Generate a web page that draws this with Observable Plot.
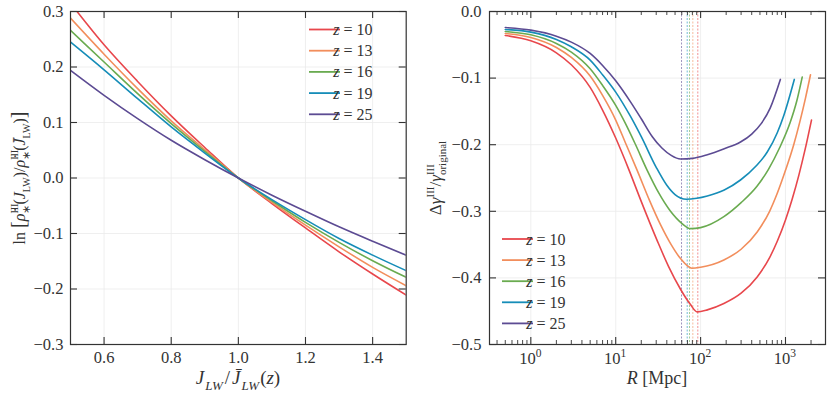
<!DOCTYPE html>
<html>
<head>
<meta charset="utf-8">
<script src="https://cdn.jsdelivr.net/npm/d3@7"></script>
<script src="https://cdn.jsdelivr.net/npm/@observablehq/plot@0.6"></script>
<style>
html,body{margin:0;padding:0;background:#fff;}
#wrap{position:relative;width:830px;height:393px;overflow:hidden;}
#wrap svg{position:absolute;top:0;}
#wrap svg text{font-family:'Liberation Serif', serif;}
</style>
</head>
<body>
<div id="wrap"></div>
<script>
// ---------- shared ----------
const redshifts = [10, 13, 16, 19, 25];
const seriesColors = ["#e8474c", "#f28e5c", "#6aab50", "#168db8", "#5c4b93"];
const FONT = "'Liberation Serif', serif";

// ---------- left panel data ----------
const jRatio = [0.5, 0.6, 0.7, 0.8, 0.9, 1.0, 1.1, 1.2, 1.3, 1.4, 1.5];
const lnRate_z10 = [0.315, 0.240, 0.174, 0.112, 0.055, 0, -0.046, -0.090, -0.133, -0.173, -0.211];
const lnRate_z13 = [0.288, 0.223, 0.161, 0.103, 0.051, 0, -0.044, -0.085, -0.124, -0.161, -0.194];
const lnRate_z16 = [0.266, 0.209, 0.152, 0.098, 0.048, 0, -0.041, -0.080, -0.116, -0.149, -0.179];
const lnRate_z19 = [0.245, 0.195, 0.143, 0.092, 0.045, 0, -0.039, -0.075, -0.109, -0.139, -0.167];
const lnRate_z25 = [0.194, 0.149, 0.107, 0.068, 0.033, 0, -0.031, -0.060, -0.088, -0.114, -0.139];
const leftXTicks = [0.6, 0.8, 1.0, 1.2, 1.4];
const leftYTicks = [-0.3, -0.2, -0.1, 0.0, 0.1, 0.2, 0.3];

// ---------- right panel data ----------
const R_z10 = [0.5, 1, 2, 3, 5, 7, 10, 14.4, 19.6, 30.8, 42, 58, 76, 91, 120, 188, 300, 464, 650, 800, 1000, 1200, 1435, 1700, 2024];
const dGamma_z10 = [-0.036, -0.044, -0.062, -0.080, -0.114, -0.148, -0.190, -0.2385, -0.2825, -0.344, -0.383, -0.417, -0.440, -0.451, -0.448, -0.4385, -0.423, -0.3985, -0.3695, -0.345, -0.313, -0.2815, -0.246, -0.2075, -0.163];
const R_z13 = [0.5, 1, 2, 3, 5, 7, 10, 13, 17.9, 25, 33.7, 45, 58, 79, 100, 188, 300, 464, 650, 800, 1000, 1250, 1480, 1720, 1970];
const dGamma_z13 = [-0.033, -0.039, -0.054, -0.069, -0.097, -0.126, -0.163, -0.197, -0.2385, -0.2835, -0.320, -0.350, -0.371, -0.3855, -0.384, -0.373, -0.357, -0.331, -0.300, -0.273, -0.2385, -0.200, -0.165, -0.130, -0.095];
const R_z16 = [0.5, 1, 2, 3, 5, 7, 10, 13, 17, 23.5, 32, 44, 60, 76, 100, 188, 300, 464, 630, 850, 1140, 1360, 1574];
const dGamma_z16 = [-0.030, -0.035, -0.048, -0.061, -0.086, -0.111, -0.141, -0.168, -0.199, -0.2385, -0.272, -0.2995, -0.318, -0.326, -0.3245, -0.308, -0.287, -0.262, -0.237, -0.205, -0.166, -0.134, -0.0985];
const R_z19 = [0.5, 1, 2, 3, 5, 7, 10, 15, 20, 30, 40, 50, 68, 90, 120, 190, 295, 450, 610, 800, 955, 1270];
const dGamma_z19 = [-0.027, -0.031, -0.042, -0.053, -0.073, -0.095, -0.121, -0.158, -0.188, -0.234, -0.261, -0.275, -0.282, -0.2805, -0.277, -0.268, -0.253, -0.232, -0.211, -0.182, -0.156, -0.102];
const R_z25 = [0.5, 1, 2, 3, 5, 7, 10, 15, 20, 27, 35, 45, 58, 80, 120, 190, 295, 400, 520, 660, 870];
const dGamma_z25 = [-0.024, -0.028, -0.037, -0.046, -0.063, -0.081, -0.104, -0.136, -0.161, -0.188, -0.205, -0.216, -0.2215, -0.2205, -0.215, -0.206, -0.196, -0.184, -0.168, -0.145, -0.102];
const minimumR = [92.7, 81, 74, 69.5, 59.6];
const rightXTicks = [1, 10, 100, 1000];
const rightXTickExponents = ["0", "1", "2", "3"];
const rightMinorTicks = [0.4, 0.5, 0.6, 0.7, 0.8, 0.9, 2, 3, 4, 5, 6, 7, 8, 9, 20, 30, 40, 50, 60, 70, 80, 90, 200, 300, 400, 500, 600, 700, 800, 900, 2000];
const rightYTicks = [-0.5, -0.4, -0.3, -0.2, -0.1, 0.0];

// ---------- build tables ----------
const leftSeries = [lnRate_z10, lnRate_z13, lnRate_z16, lnRate_z19, lnRate_z25];
const leftData = leftSeries.flatMap((vals, i) => vals.map((v, k) => ({j: jRatio[k], v, z: redshifts[i]})));
const rightR = [R_z10, R_z13, R_z16, R_z19, R_z25];
const rightV = [dGamma_z10, dGamma_z13, dGamma_z16, dGamma_z19, dGamma_z25];
const rightData = rightR.flatMap((rs, i) => rs.map((r, k) => ({r, v: rightV[i][k], z: redshifts[i]})));
const minData = minimumR.map((r, i) => ({r, z: redshifts[i]}));

const W = 415, H = 393, MT = 11, MB = 49;
const innerH = H - MT - MB;
const fmt1 = d3.format(".1f");
const AX = "#333";
const TICKFS = "16.5px";

function mathLabel(svg, parts, {x, y, rotate = 0, size = 16}) {
  const t = d3.select(svg).append("text")
    .attr("transform", `translate(${x},${y}) rotate(${rotate})`)
    .attr("text-anchor", "middle")
    .attr("font-family", FONT).attr("font-size", size).attr("fill", AX);
  let shift = 0;
  for (const p of parts) {
    const target = p.sup ? -size * 0.42 : p.sub ? size * 0.3 : 0;
    const ts = t.append("tspan").text(p.t).attr("dy", target - shift);
    if (p.dx) ts.attr("dx", p.dx);
    if (p.it) ts.attr("font-style", "italic");
    if (p.size) ts.attr("font-size", p.size);
    shift = target;
  }
}

function legend(svg, x0, y0, step) {
  const g = d3.select(svg).append("g");
  redshifts.forEach((z, i) => {
    const y = y0 + i * step;
    g.append("line").attr("x1", x0).attr("x2", x0 + 31).attr("y1", y).attr("y2", y)
      .attr("stroke", seriesColors[i]).attr("stroke-width", 1.8);
    const t = g.append("text").attr("x", x0 + 44).attr("y", y + 5.5)
      .attr("font-family", FONT).attr("font-size", 16).attr("fill", AX);
    t.append("tspan").attr("font-style", "italic").text("z");
    t.append("tspan").text(" = " + z);
  });
}

// ---------- left plot ----------
const mlL = 70, mrL = 9.3;
const innerWL = W - mlL - mrL;
const left = Plot.plot({
  width: W, height: H,
  marginLeft: mlL, marginRight: mrL, marginTop: MT, marginBottom: MB,
  style: {fontFamily: FONT, fontSize: TICKFS, color: AX, background: "transparent"},
  x: {domain: [0.5, 1.5]},
  y: {domain: [-0.3, 0.3]},
  color: {domain: redshifts, range: seriesColors},
  marks: [
    Plot.gridX(leftXTicks, {stroke: "#ebebeb", strokeOpacity: 1, strokeWidth: 0.8}),
    Plot.gridY(leftYTicks, {stroke: "#ebebeb", strokeOpacity: 1, strokeWidth: 0.8}),
    Plot.line(leftData, {x: "j", y: "v", stroke: "z", z: "z", curve: "monotone-x", strokeWidth: 1.6, clip: true}),
    Plot.frame({stroke: AX, strokeWidth: 1.2}),
    Plot.tickX(leftXTicks, {x: d => d, insetTop: innerH - 7, stroke: AX, strokeWidth: 1.1}),
    Plot.tickX(leftXTicks, {x: d => d, insetBottom: innerH - 7, stroke: AX, strokeWidth: 1.1}),
    Plot.tickY(leftYTicks, {y: d => d, insetRight: innerWL - 7, stroke: AX, strokeWidth: 1.1}),
    Plot.tickY(leftYTicks, {y: d => d, insetLeft: innerWL - 7, stroke: AX, strokeWidth: 1.1}),
    Plot.axisX(leftXTicks, {tickSize: 0, tickPadding: 7, tickFormat: fmt1, label: null}),
    Plot.axisY(leftYTicks, {tickSize: 0, tickPadding: 7, tickFormat: fmt1, label: null})
  ]
});
left.style.left = "0px";
document.getElementById("wrap").appendChild(left);
legend(left, 309, 29.5, 21.2);
mathLabel(left, [
  {t: "ln "}, {t: "[", size: 20},
  {t: "\u03c1\u0307", it: true}, {t: "III", sup: true, size: 10}, {t: "\u2217", sub: true, size: 11, dx: -10},
  {t: "(", }, {t: "J", it: true}, {t: "LW", sub: true, size: 10}, {t: ")/"},
  {t: "\u03c1\u0307", it: true}, {t: "III", sup: true, size: 10}, {t: "\u2217", sub: true, size: 11, dx: -10},
  {t: "(", }, {t: "J\u0304", it: true}, {t: "LW", sub: true, size: 10}, {t: ")"}, {t: "]", size: 20}
], {x: 25, y: 178, rotate: -90, size: 16});
mathLabel(left, [
  {t: "J", it: true}, {t: "LW", it: true, sub: true, size: 13, dx: 1}, {t: "/", dx: 2},
  {t: "J\u0304", it: true, dx: 2}, {t: "LW", it: true, sub: true, size: 13, dx: 1}, {t: "(", dx: 1}, {t: "z", it: true}, {t: ")"}
], {x: 238, y: 384, size: 19});

// ---------- right plot ----------
const mlR = 74, mrR = 5;
const innerWR = W - mlR - mrR;
const right = Plot.plot({
  width: W, height: H,
  marginLeft: mlR, marginRight: mrR, marginTop: MT, marginBottom: MB,
  style: {fontFamily: FONT, fontSize: TICKFS, color: AX, background: "transparent"},
  x: {type: "log", domain: [0.326, 2960], axis: null},
  y: {domain: [-0.5, 0]},
  color: {domain: redshifts, range: seriesColors},
  marks: [
    Plot.gridX(rightXTicks, {stroke: "#ebebeb", strokeOpacity: 1, strokeWidth: 0.8}),
    Plot.gridY(rightYTicks, {stroke: "#ebebeb", strokeOpacity: 1, strokeWidth: 0.8}),
    Plot.ruleX(minData, {x: "r", stroke: "z", strokeWidth: 0.8, strokeOpacity: 0.75, strokeDasharray: "2,1.5"}),
    Plot.line(rightData, {x: "r", y: "v", stroke: "z", z: "z", curve: "monotone-x", strokeWidth: 1.6}),
    Plot.frame({stroke: AX, strokeWidth: 1.2}),
    Plot.tickX(rightXTicks, {x: d => d, insetTop: innerH - 7, stroke: AX, strokeWidth: 1.1}),
    Plot.tickX(rightXTicks, {x: d => d, insetBottom: innerH - 7, stroke: AX, strokeWidth: 1.1}),
    Plot.tickX(rightMinorTicks, {x: d => d, insetTop: innerH - 4, stroke: AX, strokeWidth: 0.9}),
    Plot.tickX(rightMinorTicks, {x: d => d, insetBottom: innerH - 4, stroke: AX, strokeWidth: 0.9}),
    Plot.tickY(rightYTicks, {y: d => d, insetRight: innerWR - 7, stroke: AX, strokeWidth: 1.1}),
    Plot.tickY(rightYTicks, {y: d => d, insetLeft: innerWR - 7, stroke: AX, strokeWidth: 1.1}),
    Plot.axisY(rightYTicks, {tickSize: 0, tickPadding: 8, tickFormat: fmt1, label: null})
  ]
});
right.style.left = "415px";
document.getElementById("wrap").appendChild(right);
// decade tick labels 10^n placed with the plot's own x scale
const xs = right.scale("x");
const gT = d3.select(right).append("g");
rightXTicks.forEach((v, i) => {
  const t = gT.append("text")
    .attr("x", xs.apply(v)).attr("y", H - MB + 20)
    .attr("text-anchor", "middle").attr("font-family", FONT)
    .attr("font-size", 16.5).attr("fill", AX);
  t.append("tspan").text("10");
  t.append("tspan").attr("font-size", 11.5).attr("dy", -7).text(rightXTickExponents[i]);
});
legend(right, 87, 239, 21.1);
mathLabel(right, [
  {t: "\u0394"}, {t: "\u03b3", it: true}, {t: "III", sup: true, size: 11}, {t: "/"},
  {t: "\u03b3", it: true}, {t: "III", sup: true, size: 11}, {t: "original", sub: true, size: 11, dx: -11}
], {x: 26, y: 178, rotate: -90, size: 17});
mathLabel(right, [
  {t: "R", it: true}, {t: " [Mpc]"}
], {x: 242, y: 384, size: 18});
</script>
</body>
</html>
